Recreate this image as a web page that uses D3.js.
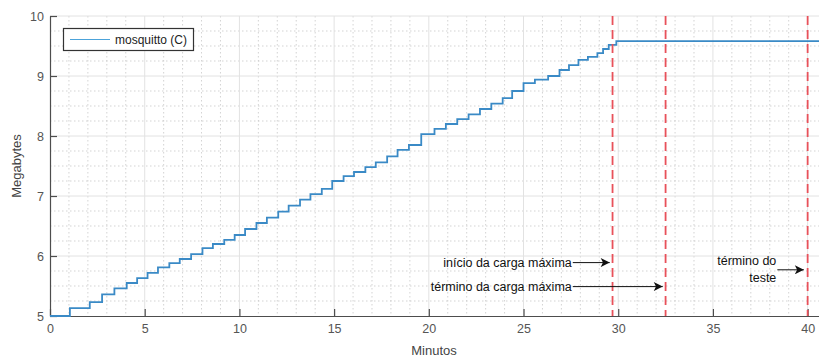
<!DOCTYPE html>
<html><head><meta charset="utf-8">
<script src="https://cdn.jsdelivr.net/npm/d3@7"></script>
<style>body{margin:0;background:#fff}svg{display:block;font-family:"Liberation Sans",Arial,sans-serif}</style>
</head><body>
<svg id="c" width="819" height="360"></svg>
<script>
// ---- data ----
const stepMinutes = [0, 1.05, 2.1, 2.75, 3.4, 4.05, 4.6, 5.15, 5.7, 6.3, 6.85, 7.45, 8.05, 8.6, 9.2, 9.75,
  10.3, 10.9, 11.45, 12.05, 12.6, 13.2, 13.75, 14.35, 14.9, 15.5, 16.05, 16.65, 17.2, 17.8, 18.35, 18.95,
  19.6, 20.3, 20.9, 21.5, 22.1, 22.7, 23.3, 23.9, 24.4, 25.0, 25.6, 26.3, 26.9, 27.4, 27.9, 28.4, 28.9,
  29.2, 29.5, 29.9, 40.6];
const megabytes = [5.00, 5.13, 5.23, 5.36, 5.46, 5.55, 5.63, 5.72, 5.81, 5.88, 5.95, 6.03, 6.13, 6.20, 6.27, 6.35,
  6.45, 6.55, 6.64, 6.74, 6.84, 6.94, 7.03, 7.12, 7.25, 7.33, 7.40, 7.48, 7.56, 7.66, 7.77, 7.85,
  8.03, 8.12, 8.20, 8.28, 8.36, 8.45, 8.54, 8.63, 8.75, 8.88, 8.94, 9.00, 9.10, 9.18, 9.27, 9.32, 9.38,
  9.45, 9.52, 9.58, 9.58];
const seriesName = "mosquitto (C)";
const xTicks = [0, 5, 10, 15, 20, 25, 30, 35, 40];
const yTicks = [5, 6, 7, 8, 9, 10];
const markerMinutes = [29.7, 32.5, 40.0];
const annotations = [
  {lines: ["início da carga máxima"], from: 27.6, to: 29.55, y: 5.89},
  {lines: ["término da carga máxima"], from: 27.6, to: 32.35, y: 5.49},
  {lines: ["término do", "teste"], from: 38.4, to: 39.8, y: 5.77}
];

// ---- layout ----
const svg = d3.select("#c");
const x = d3.scaleLinear().domain([0, 40.6]).range([50, 819]);
const y = d3.scaleLinear().domain([5, 10]).range([316, 16]);

const grid = svg.append("g");
// minor grid
grid.selectAll("line.mx").data(d3.range(0, 41, 1).filter(v => v % 5 !== 0)).join("line")
  .attr("x1", d => x(d)).attr("x2", d => x(d)).attr("y1", y(10)).attr("y2", y(5))
  .attr("stroke", "#c8c8c8").attr("stroke-width", 0.8).attr("stroke-dasharray", "1.5,2.5");
grid.selectAll("line.my").data(d3.range(5, 10.01, 0.25).filter(v => Math.abs(v - Math.round(v)) > 0.01)).join("line")
  .attr("x1", x(0)).attr("x2", 819).attr("y1", d => y(d)).attr("y2", d => y(d))
  .attr("stroke", "#c8c8c8").attr("stroke-width", 0.8).attr("stroke-dasharray", "1.5,2.5");
// major grid
grid.selectAll("line.gx").data(xTicks.slice(1)).join("line")
  .attr("x1", d => x(d)).attr("x2", d => x(d)).attr("y1", y(10)).attr("y2", y(5))
  .attr("stroke", "#e2e2e2").attr("stroke-width", 1);
grid.selectAll("line.gy").data(yTicks.slice(1)).join("line")
  .attr("x1", x(0)).attr("x2", 819).attr("y1", d => y(d)).attr("y2", d => y(d))
  .attr("stroke", "#e2e2e2").attr("stroke-width", 1);

// axes
const axCol = "#4d4d4d";
const xAxis = d3.axisBottom(x).tickValues(xTicks).tickFormat(d3.format("d")).tickSizeInner(-7).tickSizeOuter(0).tickPadding(8);
const gx = svg.append("g").attr("transform", `translate(0,${y(5)})`).call(xAxis);
gx.select(".domain").attr("stroke", axCol).attr("stroke-width", 1.2);
gx.selectAll(".tick line").attr("stroke", axCol).attr("stroke-width", 1.2);
gx.selectAll(".tick text").attr("fill", "#555").attr("font-size", 12.5).attr("font-family", "Liberation Sans, Arial, sans-serif");
const yAxis = d3.axisLeft(y).tickValues(yTicks).tickFormat(d3.format("d")).tickSizeInner(-7).tickSizeOuter(0).tickPadding(6);
const gy = svg.append("g").attr("transform", `translate(${x(0)},0)`).call(yAxis);
gy.select(".domain").attr("stroke", axCol).attr("stroke-width", 1.2);
gy.selectAll(".tick line").attr("stroke", axCol).attr("stroke-width", 1.2);
gy.selectAll(".tick text").attr("fill", "#555").attr("font-size", 12.5).attr("font-family", "Liberation Sans, Arial, sans-serif");

svg.append("text").attr("x", 434).attr("y", 355).attr("text-anchor", "middle")
  .attr("fill", "#444").attr("font-size", 13).text("Minutos");
svg.append("text").attr("transform", "translate(21,166) rotate(-90)").attr("text-anchor", "middle")
  .attr("fill", "#444").attr("font-size", 13).text("Megabytes");

// series
const pts = stepMinutes.map((t, i) => [t, megabytes[i]]);
svg.append("path").datum(pts)
  .attr("d", d3.line().x(d => x(d[0])).y(d => y(d[1])).curve(d3.curveStepAfter))
  .attr("fill", "none").attr("stroke", "#3a8ac6").attr("stroke-width", 1.8);

// red dashed markers
svg.selectAll("line.mk").data(markerMinutes).join("line")
  .attr("x1", d => x(d)).attr("x2", d => x(d)).attr("y1", y(10)).attr("y2", y(5))
  .attr("stroke", "#e8515a").attr("stroke-width", 1.8).attr("stroke-dasharray", "9,5");

// annotations
svg.append("defs").append("marker").attr("id", "ah").attr("viewBox", "0 0 10 10")
  .attr("refX", 10).attr("refY", 5).attr("markerWidth", 13).attr("markerHeight", 9)
  .attr("markerUnits", "userSpaceOnUse").attr("orient", "auto")
  .append("path").attr("d", "M0,0 L10,5 L0,10 L2.5,5 Z").attr("fill", "#111");
annotations.forEach(a => {
  svg.append("line").attr("x1", x(a.from)).attr("x2", x(a.to)).attr("y1", y(a.y)).attr("y2", y(a.y))
    .attr("stroke", "#111").attr("stroke-width", 1).attr("marker-end", "url(#ah)");
  const n = a.lines.length;
  a.lines.forEach((s, i) => {
    svg.append("text").attr("x", x(a.from) - 1)
      .attr("y", y(a.y) + 4 + (i - (n - 1) / 2) * 17)
      .attr("text-anchor", "end").attr("fill", "#111").attr("font-size", 12.5).text(s);
  });
});

// legend
const lg = svg.append("g");
lg.append("rect").attr("x", 63.5).attr("y", 28.5).attr("width", 130).attr("height", 22)
  .attr("fill", "#fff").attr("stroke", "#333").attr("stroke-width", 1.2);
lg.append("line").attr("x1", 70).attr("x2", 110).attr("y1", 39.5).attr("y2", 39.5)
  .attr("stroke", "#4ca3da").attr("stroke-width", 1);
lg.append("text").attr("x", 115).attr("y", 43.5).attr("fill", "#222").attr("font-size", 12).text(seriesName);
</script>
</body></html>
